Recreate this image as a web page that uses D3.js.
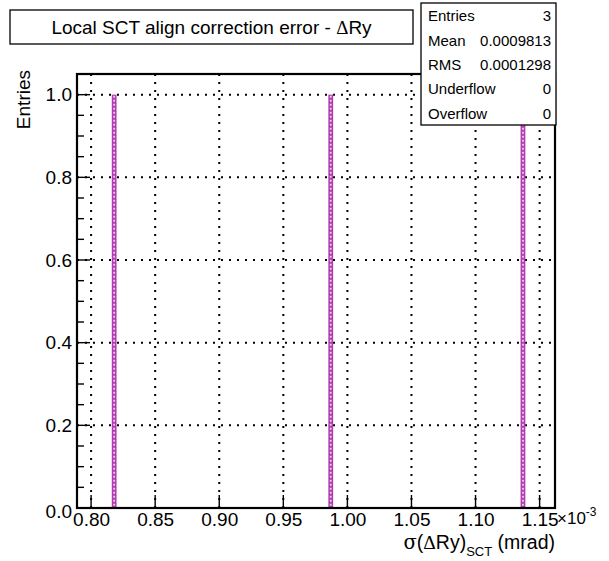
<!DOCTYPE html>
<html><head><meta charset="utf-8">
<script src="https://cdn.jsdelivr.net/npm/d3@7"></script>
<style>body{margin:0;background:#fff}svg{display:block}</style>
</head><body>
<script>
const binCenters = [0.818, 0.987, 1.137];   // x 1e-3 mrad
const binCounts = [1, 1, 1];
const xTicks = [0.80, 0.85, 0.90, 0.95, 1.00, 1.05, 1.10, 1.15];
const yTicks = [0.0, 0.2, 0.4, 0.6, 0.8, 1.0];
const statsLabels = ["Entries", "Mean", "RMS", "Underflow", "Overflow"];
const statsValues = ["3", "0.0009813", "0.0001298", "0", "0"];
const xDomain = [0.789, 1.162];
const yDomain = [0, 1.05];
const nBins = 100;

const W = 609, H = 561;
const m = {l: 77, r: 54, t: 74, b: 53};
const svg = d3.select("body").append("svg").attr("width", W).attr("height", H);
const font = "'Liberation Sans', Arial, Helvetica, sans-serif";
const x = d3.scaleLinear().domain(xDomain).range([m.l, W - m.r]);
const y = d3.scaleLinear().domain(yDomain).range([H - m.b, m.t]);

// grid
const g = svg.append("g");
g.selectAll(".gx").data(xTicks).join("line")
  .attr("x1", d => x(d)).attr("x2", d => x(d)).attr("y1", m.t).attr("y2", H - m.b)
  .attr("stroke", "#000").attr("stroke-width", 2).attr("stroke-dasharray", "2,6");
g.selectAll(".gy").data(yTicks.filter(d => d > 0)).join("line")
  .attr("x1", m.l).attr("x2", W - m.r).attr("y1", d => y(d)).attr("y2", d => y(d))
  .attr("stroke", "#000").attr("stroke-width", 2).attr("stroke-dasharray", "2,6");

// bars
const bw = x(xDomain[0] + (xDomain[1] - xDomain[0]) / nBins) - x(xDomain[0]);
const bars = svg.append("g");
binCenters.forEach((c, i) => {
  bars.append("rect").attr("x", x(c) - bw / 2).attr("y", y(binCounts[i]))
    .attr("width", bw).attr("height", y(0) - y(binCounts[i]))
    .attr("fill", "#b03cb0").attr("stroke", "none");
  bars.append("line").attr("x1", x(c)).attr("x2", x(c))
    .attr("y1", y(binCounts[i]) + 1).attr("y2", y(0))
    .attr("stroke", "#f0c8f0").attr("stroke-width", 1.8).attr("stroke-dasharray", "2,2");
});

// axes
const xAxis = d3.axisBottom(x).tickValues(xTicks).tickSize(0).tickFormat(d3.format(".2f"));
const yMinor = d3.range(0, 1.0501, 0.05);
const ax = svg.append("g");
ax.selectAll(".tx").data(xTicks).join("line")
  .attr("x1", d => x(d)).attr("x2", d => x(d)).attr("y1", H - m.b).attr("y2", H - m.b - 13)
  .attr("stroke", "#000").attr("stroke-width", 1.4);
ax.selectAll(".ty").data(yMinor).join("line")
  .attr("x1", m.l).attr("x2", (d, i) => m.l + (i % 4 === 0 ? 13 : 7))
  .attr("y1", d => y(d)).attr("y2", d => y(d))
  .attr("stroke", "#000").attr("stroke-width", 1.4);
svg.append("g").attr("transform", `translate(0,${H - m.b + 1})`).call(xAxis)
  .call(s => s.select(".domain").remove())
  .selectAll("text").attr("font-family", font).attr("font-size", 19).attr("fill", "#000");
const yAxis = d3.axisLeft(y).tickValues(yTicks).tickSize(0).tickFormat(d3.format(".1f"));
svg.append("g").attr("transform", `translate(${m.l - 2},0)`).call(yAxis)
  .call(s => s.select(".domain").remove())
  .selectAll("text").attr("font-family", font).attr("font-size", 19).attr("fill", "#000")
  .attr("dy", d => d === 0 ? "0.5em" : "0.32em");

// frame
svg.append("rect").attr("x", m.l).attr("y", m.t).attr("width", W - m.l - m.r).attr("height", H - m.t - m.b)
  .attr("fill", "none").attr("stroke", "#000").attr("stroke-width", 2.2);

// x10^-3
const ex = svg.append("text").attr("x", W - m.r + 2).attr("y", H - m.b + 16)
  .attr("font-family", font).attr("font-size", 17);
ex.append("tspan").text("×10");
ex.append("tspan").attr("dy", -8).attr("font-size", 12).text("-3");

// axis titles
svg.append("text").attr("transform", `translate(30,${m.t - 4}) rotate(-90)`)
  .attr("text-anchor", "end").attr("font-family", font).attr("font-size", 19).text("Entries");
const xt = svg.append("text").attr("x", W - m.r).attr("y", H - 12).attr("text-anchor", "end")
  .attr("font-family", font).attr("font-size", 19.5);
xt.append("tspan").attr("font-family", "'DejaVu Serif', 'Liberation Serif', serif").text("σ");
xt.append("tspan").text("(");
xt.append("tspan").attr("font-family", "'Liberation Serif', serif").text("Δ");
xt.append("tspan").text("Ry)");
xt.append("tspan").attr("dy", 7).attr("font-size", 13).text("SCT");
xt.append("tspan").attr("dy", -7).text(" (mrad)");

// title box
svg.append("rect").attr("x", 10).attr("y", 10).attr("width", 403).attr("height", 34)
  .attr("fill", "#fff").attr("stroke", "#000").attr("stroke-width", 1.3);
const tt = svg.append("text").attr("x", 211.5).attr("y", 34).attr("text-anchor", "middle")
  .attr("font-family", font).attr("font-size", 19);
tt.append("tspan").text("Local SCT align correction error - ");
tt.append("tspan").attr("font-family", "'Liberation Serif', serif").text("Δ");
tt.append("tspan").text("Ry");

// stats box
const sb = {x: 421, y: 3, w: 135, h: 122};
svg.append("rect").attr("x", sb.x).attr("y", sb.y).attr("width", sb.w).attr("height", sb.h)
  .attr("fill", "#fff").attr("stroke", "#000").attr("stroke-width", 1.3);
const rowH = sb.h / statsLabels.length;
statsLabels.forEach((l, i) => {
  svg.append("text").attr("x", sb.x + 7).attr("y", sb.y + rowH * i + rowH / 2 + 6)
    .attr("font-family", font).attr("font-size", 15).text(l);
  svg.append("text").attr("x", sb.x + sb.w - 5).attr("y", sb.y + rowH * i + rowH / 2 + 6)
    .attr("text-anchor", "end").attr("font-family", font).attr("font-size", 15).text(statsValues[i]);
});
</script>
</body></html>
